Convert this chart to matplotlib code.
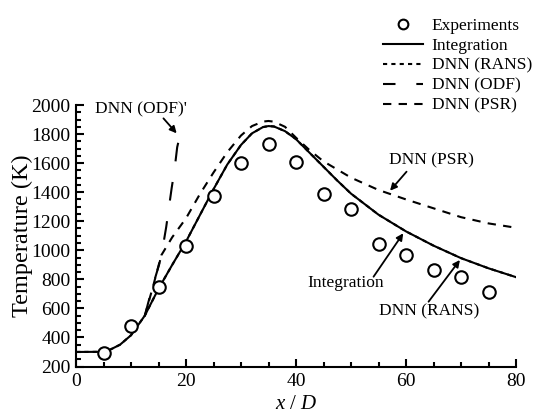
import matplotlib
matplotlib.use("Agg")
import matplotlib.pyplot as plt
from matplotlib.lines import Line2D

plt.rcParams['font.family'] = ['Liberation Serif', 'DejaVu Serif']
plt.rcParams['mathtext.fontset'] = 'custom'
plt.rcParams['mathtext.rm'] = 'Liberation Serif'
plt.rcParams['mathtext.it'] = 'Liberation Serif:italic'

# Experiments
exp_x = [5, 10, 15, 20, 25, 30, 35, 40, 45, 50, 55, 60, 65, 70, 75]
exp_T = [293, 476, 745, 1030, 1372, 1603, 1730, 1610, 1384, 1282, 1043, 969, 866, 816, 710]

# Integration
int_x = [0, 4, 6, 8, 10, 12.5, 15, 17.5, 20, 22.5, 25, 27.5, 30, 32, 34, 35, 36, 38, 40,
         42.5, 45, 47.5, 50, 55, 60, 65, 70, 75, 80]
int_T = [300, 301, 312, 350, 415, 550, 735, 900, 1060, 1240, 1420, 1590, 1725, 1805, 1848, 1855,
         1852, 1820, 1765, 1670, 1575, 1480, 1390, 1245, 1130, 1032, 946, 876, 815]

# DNN (RANS)
rans_x = [0, 4, 6, 8, 10, 12.5, 15, 17.5, 20, 22.5, 25, 27.5, 30, 32, 34, 35, 36, 38, 40,
          42.5, 45, 47.5, 50, 55, 60, 65, 70, 75, 80]
rans_T = [300, 301, 312, 350, 415, 550, 735, 900, 1060, 1240, 1420, 1590, 1725, 1805, 1848, 1855,
          1852, 1820, 1765, 1670, 1575, 1480, 1390, 1245, 1130, 1032, 946, 876, 815]

# DNN (ODF)
odf_x = [12.5, 13.1, 14.1, 15.1, 15.6, 16.4, 17.4, 17.9, 18.4, 19.2]
odf_T = [545, 635, 773, 900, 980, 1160, 1430, 1550, 1710, 1840]

# DNN (PSR)
psr_x = [12.5, 14, 15.5, 17.5, 20, 22.5, 25, 27.5, 30, 32, 34, 35, 36, 38, 40, 42.5, 45,
         50, 55, 60, 65, 70, 75, 80]
psr_T = [550, 750, 965, 1090, 1220, 1385, 1535, 1675, 1790, 1855, 1886, 1890, 1885, 1850, 1775,
         1688, 1612, 1500, 1415, 1350, 1289, 1228, 1185, 1155]

fig = plt.figure(figsize=(5.34, 4.19), dpi=100)
ax = fig.add_axes([76/534, 1-366.5/419, 440/534, 261.5/419])

lw = 1.5
ax.plot(int_x, int_T, color='black', lw=lw, ls='-', label='Integration')
ax.plot(rans_x, rans_T, color='black', lw=lw, ls=(0, (2, 2)), label='DNN (RANS)')
ax.plot(odf_x, odf_T, color='black', lw=lw, ls=(0, (9, 10)), label='DNN (ODF)')
ax.plot(psr_x, psr_T, color='black', lw=lw, ls=(0, (4, 3.5)), label='DNN (PSR)')
ax.plot(exp_x, exp_T, ls='none', marker='o', ms=9, mfc='white', mec='black', mew=1.5,
        label='Experiments')

ax.set_xlim(0, 80)
ax.set_ylim(200, 2000)
ax.set_xticks([0, 20, 40, 60, 80])
ax.set_xticks(range(0, 81, 5), minor=True)
ax.set_yticks(range(200, 2001, 200))
ax.set_yticks(range(200, 2001, 50), minor=True)
for s in ['top', 'right']:
    ax.spines[s].set_visible(False)
for s in ['left', 'bottom']:
    ax.spines[s].set_linewidth(1.5)
ax.tick_params(which='both', direction='in', width=1.5, labelsize=14)
ax.tick_params(which='major', length=6)
ax.tick_params(which='minor', length=3.5)
ax.tick_params(axis='x', pad=5)
ax.tick_params(axis='y', pad=4)

ax.set_ylabel('Temperature (K)', fontsize=17.5, labelpad=-1)
ax.set_xlabel('$x$ / $D$', fontsize=15, labelpad=3)

# annotations
afs = 12.5
arr = dict(arrowstyle='-|>', color='black', lw=1.3, mutation_scale=10, shrinkA=0, shrinkB=0)
ax.text(11.8, 1970, "DNN (ODF)'", fontsize=afs, ha='center', va='center')
ax.annotate('', xy=(18.3, 1805), xytext=(15.9, 1908), arrowprops=arr)
ax.text(64.6, 1621, 'DNN (PSR)', fontsize=afs, ha='center', va='center')
ax.annotate('', xy=(57.1, 1410), xytext=(60.1, 1541), arrowprops=arr)
ax.text(49.1, 775, 'Integration', fontsize=afs, ha='center', va='center')
ax.annotate('', xy=(59.5, 1117), xytext=(54.1, 818), arrowprops=arr)
ax.text(64.2, 581, 'DNN (RANS)', fontsize=afs, ha='center', va='center')
ax.annotate('', xy=(69.8, 933), xytext=(64.1, 646), arrowprops=arr)

handles = [
    Line2D([], [], ls='none', marker='o', ms=7, mfc='white', mec='black', mew=1.5),
    Line2D([], [], color='black', lw=lw, ls='-'),
    Line2D([], [], color='black', lw=lw, ls=(0, (2, 2))),
    Line2D([], [], color='black', lw=lw, ls=(3, (9, 10))),
    Line2D([], [], color='black', lw=lw, ls=(0, (4, 3.5))),
]
labels = ['Experiments', 'Integration', 'DNN (RANS)', 'DNN (ODF)', 'DNN (PSR)']
fig.legend(handles, labels, loc='upper right', bbox_to_anchor=(0.996, 0.958), frameon=False,
           fontsize=12.5, handlelength=2.3, handletextpad=0.5, labelspacing=0.22, borderpad=0.0,
           borderaxespad=0)

fig.savefig('out.png', dpi=100)
